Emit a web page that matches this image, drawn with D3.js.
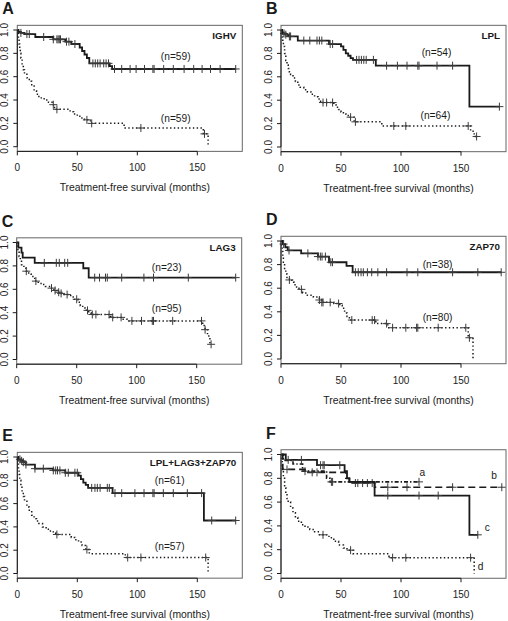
<!DOCTYPE html>
<html><head><meta charset="utf-8">
<script src="https://cdn.jsdelivr.net/npm/d3@7/dist/d3.min.js"></script>
<style>
body{margin:0;background:#fff;}
svg{display:block;font-family:"Liberation Sans",Arial,sans-serif;}
.tick{font-family:"Liberation Sans Narrow","Liberation Sans",Arial,sans-serif;font-size:10px;fill:#222;}
</style></head>
<body><svg id="c" width="508" height="621"></svg>
<script>
// ---------- data ----------
const xTicks = [0, 50, 100, 150];
const yTicks = [0, 0.2, 0.4, 0.6, 0.8, 1.0];
const xTitle = "Treatment-free survival (months)";

// Panel A (IGHV)
const aSolidT = [1, 3, 6, 15, 30, 40, 45, 52, 54, 56, 58, 60, 77, 79];
const aSolidS = [0.983, 0.975, 0.965, 0.94, 0.92, 0.90, 0.88, 0.85, 0.82, 0.79, 0.76, 0.714, 0.69, 0.666];
const aSolidC = [3, 8, 10, 22, 30, 33, 34, 35, 36, 41, 43, 48, 63, 65, 67, 69, 72, 74, 76, 81, 87, 94, 99, 106, 113, 114, 122, 130, 139, 147, 154, 161, 169, 182];
const aDotT = [0.5, 1, 1.5, 2, 2.5, 3, 4, 5, 6, 8, 10, 12, 14, 16, 18, 20, 23, 26, 29, 31, 44, 47, 50, 53, 56, 61, 89, 155, 159];
const aDotS = [0.97, 0.93, 0.88, 0.84, 0.80, 0.76, 0.70, 0.66, 0.62, 0.59, 0.56, 0.52, 0.48, 0.45, 0.43, 0.41, 0.40, 0.38, 0.36, 0.32, 0.30, 0.28, 0.26, 0.245, 0.23, 0.20, 0.16, 0.11, 0];
const aDotC = [30, 33, 58, 62, 103, 156];

// Panel B (LPL)
const bSolidT = [1, 2, 4, 6, 14, 40, 50, 52, 54, 56, 58, 60, 79, 157];
const bSolidS = [0.98, 0.97, 0.96, 0.945, 0.91, 0.88, 0.86, 0.83, 0.80, 0.78, 0.76, 0.745, 0.695, 0.345];
const bSolidC = [2.5, 4, 7, 8, 19, 24, 30, 32, 34, 41, 43, 63, 65, 67, 69, 71, 77, 88, 97, 105, 114, 115, 130, 143, 182];
const bDotT = [0.5, 1, 1.5, 2, 3, 4, 5, 6, 7, 8, 10, 12, 14, 16, 19, 22, 25, 28, 31, 33, 44, 46, 48, 50, 52, 54, 56, 61, 84, 158, 161];
const bDotS = [0.97, 0.94, 0.90, 0.86, 0.80, 0.74, 0.70, 0.67, 0.64, 0.62, 0.59, 0.56, 0.53, 0.51, 0.49, 0.47, 0.45, 0.43, 0.41, 0.38, 0.36, 0.34, 0.32, 0.30, 0.285, 0.27, 0.255, 0.215, 0.18, 0.135, 0.09];
const bDotC = [35, 38, 43, 58, 62, 94, 104, 156, 163];

// Panel C (LAG3)
const cSolidT = [1.4, 4, 5, 15, 55.5, 60];
const cSolidS = [0.957, 0.913, 0.87, 0.826, 0.78, 0.70];
const cSolidC = [23, 33, 35.5, 40, 42.5, 65, 69, 74, 75.5, 87.5, 106, 114, 143, 182.5];
const cDotT = [0.5, 1, 2, 3, 4, 6, 8, 10, 12, 15, 18, 21, 24, 28, 31, 34, 36, 38, 45, 48, 51, 53, 55, 57, 60, 62, 78, 80, 88, 92, 155, 157, 159, 161];
const cDotS = [0.97, 0.93, 0.88, 0.84, 0.81, 0.78, 0.755, 0.73, 0.71, 0.67, 0.65, 0.64, 0.625, 0.61, 0.59, 0.575, 0.565, 0.555, 0.535, 0.515, 0.49, 0.46, 0.44, 0.42, 0.40, 0.385, 0.37, 0.36, 0.345, 0.33, 0.29, 0.255, 0.20, 0.13];
const cDotC = [8, 16, 29, 32, 35, 37, 42, 50, 59, 63, 66, 77, 80, 87, 96, 104, 113, 114, 130, 154, 157, 162];

// Panel D (ZAP70)
const dSolidT = [1.4, 3.6, 5.6, 16.8, 30.8, 40, 54.6, 59.7];
const dSolidS = [0.974, 0.947, 0.92, 0.895, 0.868, 0.82, 0.79, 0.735];
const dSolidC = [2.2, 6.7, 22.4, 30.8, 32.8, 34.2, 37, 41.5, 42.9, 62, 64.4, 66.7, 68.6, 72, 75.6, 80.7, 88, 105, 114, 143, 164, 183.5];
const dDotT = [0.5, 1, 1.5, 2, 3, 4, 5, 7, 9, 11, 13, 15, 18, 22, 27, 32, 34, 44, 49, 51, 53, 55, 57, 79, 89, 156, 160];
const dDotS = [0.96, 0.91, 0.86, 0.82, 0.76, 0.72, 0.69, 0.67, 0.65, 0.63, 0.61, 0.59, 0.56, 0.54, 0.525, 0.50, 0.48, 0.47, 0.455, 0.43, 0.39, 0.36, 0.33, 0.30, 0.265, 0.18, 0];
const dDotC = [7, 17, 32, 34, 35, 41, 48, 59, 76, 78, 88, 93, 104, 113, 114, 131, 154, 157];

// Panel E (LPL+LAG3+ZAP70)
const eSolidT = [1, 3, 5, 7, 14.7, 30, 40, 51, 53, 55, 57, 59, 79.4, 155.5];
const eSolidS = [0.98, 0.967, 0.955, 0.935, 0.90, 0.885, 0.865, 0.84, 0.81, 0.78, 0.76, 0.735, 0.69, 0.455];
const eSolidC = [2.2, 3.6, 5, 7.2, 14.7, 21.7, 30, 32, 33.5, 35.5, 40, 42.5, 48, 50, 62, 64.7, 66.7, 69, 75, 76.7, 81.4, 87, 98, 105.6, 113, 114, 121.7, 130, 141.7, 153.6, 162, 182];
const eDotT = [0.5, 1, 1.5, 2, 3, 4, 5, 6, 8, 10, 12, 14, 16, 18, 21, 24, 27, 30, 32, 45, 48, 51, 54, 57, 60, 90, 159];
const eDotS = [0.96, 0.90, 0.85, 0.80, 0.74, 0.70, 0.66, 0.62, 0.57, 0.53, 0.50, 0.47, 0.45, 0.43, 0.40, 0.38, 0.365, 0.35, 0.335, 0.31, 0.29, 0.27, 0.24, 0.205, 0.17, 0.137, 0];
const eDotC = [33, 58, 92, 103, 157];

// Panel F (a, b, c, d)
const fAT = [2, 10, 18, 38, 41];
const fAS = [0.95, 0.92, 0.86, 0.80, 0.77];
const fAC = [20, 42, 43, 115];
const fBT = [1.5, 20, 54, 57, 78];
const fBS = [0.875, 0.85, 0.80, 0.76, 0.725];
const fBC = [5, 26, 30, 62, 64, 68, 72, 76, 89, 105, 143, 184];
const fCT = [4, 30, 53, 55, 57, 78, 157];
const fCS = [0.955, 0.91, 0.86, 0.80, 0.77, 0.655, 0.325];
const fCC = [6, 17, 33, 35, 36, 49, 89, 115, 131, 164];
const fDT = [0.5, 1, 2, 3, 4, 5, 6, 8, 10, 12, 14, 17, 20, 24, 28, 32, 40, 44, 48, 52, 55, 60, 90, 161];
const fDS = [0.95, 0.88, 0.80, 0.72, 0.67, 0.63, 0.60, 0.55, 0.51, 0.47, 0.44, 0.41, 0.39, 0.37, 0.35, 0.325, 0.30, 0.27, 0.24, 0.215, 0.196, 0.166, 0.133, 0];
const fDC = [35, 58, 93, 104, 158];

// panel letters, titles and annotations
const panelLetters = ["A", "B", "C", "D", "E", "F"];
const panelTitles = ["IGHV", "LPL", "LAG3", "ZAP70", "LPL+LAG3+ZAP70", ""];
const nLabels = [
  [["(n=59)", 132, 0.77], ["(n=59)", 132, 0.246]],
  [["(n=54)", 129.6, 0.81], ["(n=64)", 128.7, 0.27]],
  [["(n=23)", 125, 0.79], ["(n=95)", 125, 0.44]],
  [["(n=38)", 130.5, 0.80], ["(n=80)", 130.5, 0.35]],
  [["(n=61)", 127, 0.80], ["(n=57)", 127, 0.236]],
  [["a", 117.8, 0.85], ["b", 177.5, 0.82], ["c", 172, 0.39], ["d", 166.4, 0.06]]
];

// ---------- layout ----------
const layout = [
  {x0: 17.3, y1: 30,  y0: 146.7},
  {x0: 281,  y1: 30,  y0: 147},
  {x0: 16.7, y1: 242.5, y0: 359.5},
  {x0: 281,  y1: 241, y0: 359},
  {x0: 17.3, y1: 457, y0: 573.5},
  {x0: 281,  y1: 454.5, y0: 573.5}
];
const styles = {
  solid: {w: 1.8, dash: null},
  dot:   {w: 1.5, dash: "1.4,2.4"},
  dash:  {w: 1.6, dash: "7,4"},
  dashdot: {w: 1.6, dash: "4,2,1.4,2"}
};
const curves = [
  [[aSolidT, aSolidS, aSolidC, "solid"], [aDotT, aDotS, aDotC, "dot"]],
  [[bSolidT, bSolidS, bSolidC, "solid"], [bDotT, bDotS, bDotC, "dot"]],
  [[cSolidT, cSolidS, cSolidC, "solid"], [cDotT, cDotS, cDotC, "dot"]],
  [[dSolidT, dSolidS, dSolidC, "solid"], [dDotT, dDotS, dDotC, "dot"]],
  [[eSolidT, eSolidS, eSolidC, "solid"], [eDotT, eDotS, eDotC, "dot"]],
  [[fAT, fAS, fAC, "dashdot"], [fBT, fBS, fBC, "dash"], [fCT, fCS, fCC, "solid"], [fDT, fDS, fDC, "dot"]]
];

const svg = d3.select("#c");
const ink = "#1a1a1a";

layout.forEach((L, i) => {
  const x = d3.scaleLinear().domain([0, 187.5]).range([L.x0, L.x0 + 225]);
  const span = L.y0 - L.y1;
  const y = d3.scaleLinear().domain([0, 1]).range([L.y0, L.y1]);
  const yTop = L.y1 - 0.04 * span, yBot = L.y0 + 0.04 * span;
  const g = svg.append("g");

  // curves
  curves[i].forEach(([T, S, C, st]) => {
    const end = Math.max(T[T.length - 1], C.length ? C[C.length - 1] : 0);
    const pts = [[0, 1]].concat(T.map((t, k) => [t, S[k]]));
    pts.push([end, S[S.length - 1]]);
    const line = d3.line().x(d => x(d[0])).y(d => y(d[1])).curve(d3.curveStepAfter);
    const sty = styles[st];
    g.append("path").attr("d", line(pts)).attr("fill", "none")
      .attr("stroke", ink).attr("stroke-width", sty.w)
      .attr("stroke-dasharray", sty.dash);
    const survAt = c => { let v = 1; T.forEach((t, k) => { if (t <= c) v = S[k]; }); return v; };
    C.forEach(c => {
      const cx = x(c), cy = y(survAt(c));
      g.append("path").attr("d", `M${cx - 4},${cy}H${cx + 4}M${cx},${cy - 4}V${cy + 4}`)
        .attr("stroke", "#3a3a3a").attr("stroke-width", 1);
    });
  });

  // box
  g.append("rect").attr("x", x(0)).attr("y", yTop).attr("width", x(187.5) - x(0)).attr("height", yBot - yTop)
    .attr("fill", "none").attr("stroke", "#666").attr("stroke-width", 1);

  // y axis
  const ya = g.append("g").attr("transform", `translate(${x(0)},0)`);
  ya.append("line").attr("y1", y(1)).attr("y2", y(0)).attr("stroke", ink);
  yTicks.forEach(v => {
    ya.append("line").attr("x1", 0).attr("x2", -4).attr("y1", y(v)).attr("y2", y(v)).attr("stroke", ink);
    ya.append("text").attr("class", "tick").attr("transform", `translate(-12.5,${y(v)}) rotate(-90)`)
      .attr("text-anchor", "middle").attr("dy", "0.35em").text(d3.format(".1f")(v));
  });
  // x axis
  const xa = g.append("g").attr("transform", `translate(0,${yBot})`);
  xa.append("line").attr("x1", x(0)).attr("x2", x(150)).attr("stroke", ink);
  xTicks.forEach(v => {
    xa.append("line").attr("x1", x(v)).attr("x2", x(v)).attr("y1", 0).attr("y2", 4).attr("stroke", ink);
    xa.append("text").attr("class", "tick").attr("x", x(v)).attr("y", 20).attr("text-anchor", "middle").text(v);
  });
  g.append("text").attr("x", (x(0) + x(187.5)) / 2 + 5).attr("y", yBot + 40)
    .attr("text-anchor", "middle").attr("font-size", "10.4px").attr("fill", ink).text(xTitle);

  // panel letter
  g.append("text").attr("x", x(0) - 15).attr("y", yTop - 11).attr("font-size", "16px")
    .attr("font-weight", "bold").attr("fill", ink).text(panelLetters[i]);

  // gene title
  if (panelTitles[i]) {
    g.append("text").attr("x", x(187.5) - 6).attr("y", yTop + 13.5).attr("text-anchor", "end")
      .attr("font-size", "9.8px").attr("font-weight", "bold").attr("fill", ink).text(panelTitles[i]);
  }
  // n labels
  nLabels[i].forEach(([txt, mx, sv]) => {
    g.append("text").attr("x", x(mx)).attr("y", y(sv)).attr("dy", "0.35em").attr("text-anchor", "middle")
      .attr("font-size", "10.2px").attr("fill", ink).text(txt);
  });
});
</script></body></html>
